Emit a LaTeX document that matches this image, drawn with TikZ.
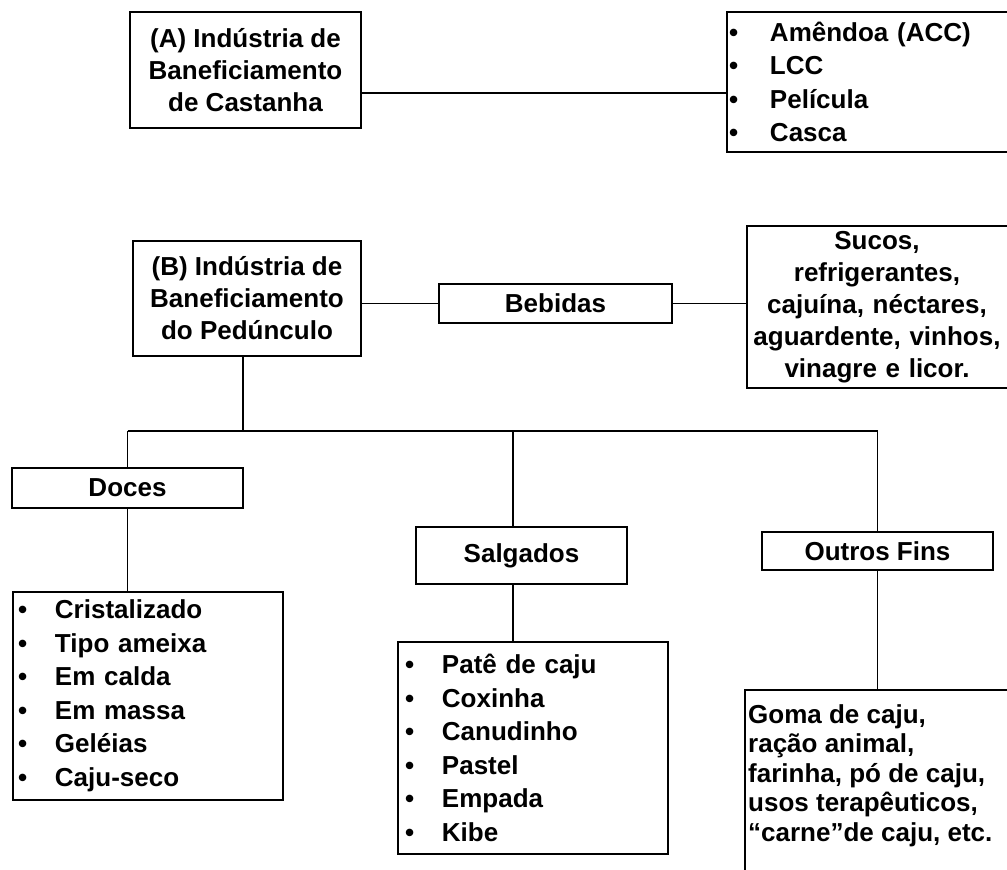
\documentclass[tikz,border=0pt]{standalone}
\usepackage{fontspec}
\setmainfont{Liberation Sans}
\newcommand\bl[2]{\makebox[#1][l]{•}#2}
\newcommand\cl[1]{\makebox[260pt][c]{#1}}
\begin{document}
\begin{tikzpicture}[x=1pt,y=-1pt,
  box/.style={draw, line width=1.8pt, inner sep=0pt, font=\bfseries\fontsize{26}{32}\selectfont, align=center},
  lst/.style={draw, line width=1.8pt, inner ysep=0pt, font=\bfseries\fontsize{26}{33.5}\selectfont, align=left},
  conn/.style={line width=1.8pt}]
\useasboundingbox[fill=white] (0,0) rectangle (1007,870);

% top part
\node[box, minimum width=231pt, minimum height=116pt] (A) at (245.5,70) {(A) Indústria de\\Baneficiamento\\de Castanha};
\node[lst, inner xsep=2pt, text width=286pt, minimum height=140pt] (AL) at (872,82)
  {\bl{41pt}{Amêndoa (ACC)}\\\bl{41pt}{LCC}\\\bl{41pt}{Película}\\\bl{41pt}{Casca}};
\coordinate (a1) at ([yshift=-23pt]A.east);
\draw[conn] (a1) -- (a1 -| AL.west);

% B row
\node[box, minimum width=228pt, minimum height=115pt] (B) at (247,298.5) {(B) Indústria de\\Baneficiamento\\do Pedúnculo};
\node[box, minimum width=233pt, minimum height=39pt] (Beb) at (555.5,303.5) {Bebidas};
\node[box, align=left, inner sep=0pt, text width=270pt, minimum height=162pt, font=\bfseries\fontsize{26}{32}\selectfont] (Suc) at (882,307)
  {\cl{Sucos,}\\\cl{refrigerantes,}\\\cl{cajuína, néctares,}\\\cl{aguardente, vinhos,}\\\cl{vinagre e licor.}};
\draw[conn] (B.east |- Beb.west) -- (Beb.west);
\draw[conn] (Beb.east) -- (Beb.east -| Suc.west);

% tree
\coordinate (hb) at (243,431);
\coordinate (hl) at (0,431);
\coordinate (hs) at (513,431);
\node[box, minimum width=231pt, minimum height=40pt] (Doc) at (127.5,488) {Doces};
\node[lst, inner xsep=5pt, text width=260pt, minimum height=208pt] (DocL) at (148,696)
  {\bl{37pt}{Cristalizado}\\\bl{37pt}{Tipo ameixa}\\\bl{37pt}{Em calda}\\\bl{37pt}{Em massa}\\\bl{37pt}{Geléias}\\\bl{37pt}{Caju-seco}};
\node[box, minimum width=211pt, minimum height=57pt] (Sal) at (521.5,555.5) {Salgados};
\node[lst, inner xsep=7pt, text width=256pt, minimum height=212pt] (SalL) at (533,748)
  {\bl{37pt}{Patê de caju}\\\bl{37pt}{Coxinha}\\\bl{37pt}{Canudinho}\\\bl{37pt}{Pastel}\\\bl{37pt}{Empada}\\\bl{37pt}{Kibe}};
\node[box, minimum width=231pt, minimum height=38pt] (Out) at (877.5,551) {Outros Fins};
\node[draw, line width=1.8pt, minimum width=272pt, minimum height=190pt, inner sep=0pt] (Goma) at (881,785) {};
\node[anchor=north west, inner sep=0pt, align=left, font=\bfseries\fontsize{26}{29.5}\selectfont] (GomaT) at (748,704)
  {Goma de caju,\\ração animal,\\farinha, pó de caju,\\usos terapêuticos,\\“carne”de caju, etc.};

\draw[conn] (hb |- B.south) -- (hb);
\draw[conn] (Doc.north |- hl) -- (Out.north |- hl);
\draw[conn] (Doc.north |- hl) -- (Doc.north);
\draw[conn] (Doc.south) -- (Doc.south |- DocL.north);
\draw[conn] (hs) -- (hs |- Sal.north);
\draw[conn] (hs |- Sal.south) -- (hs |- SalL.north);
\draw[conn] (Out.north |- hl) -- (Out.north);
\draw[conn] (Out.south) -- (Out.south |- Goma.north);
\end{tikzpicture}
\end{document}
